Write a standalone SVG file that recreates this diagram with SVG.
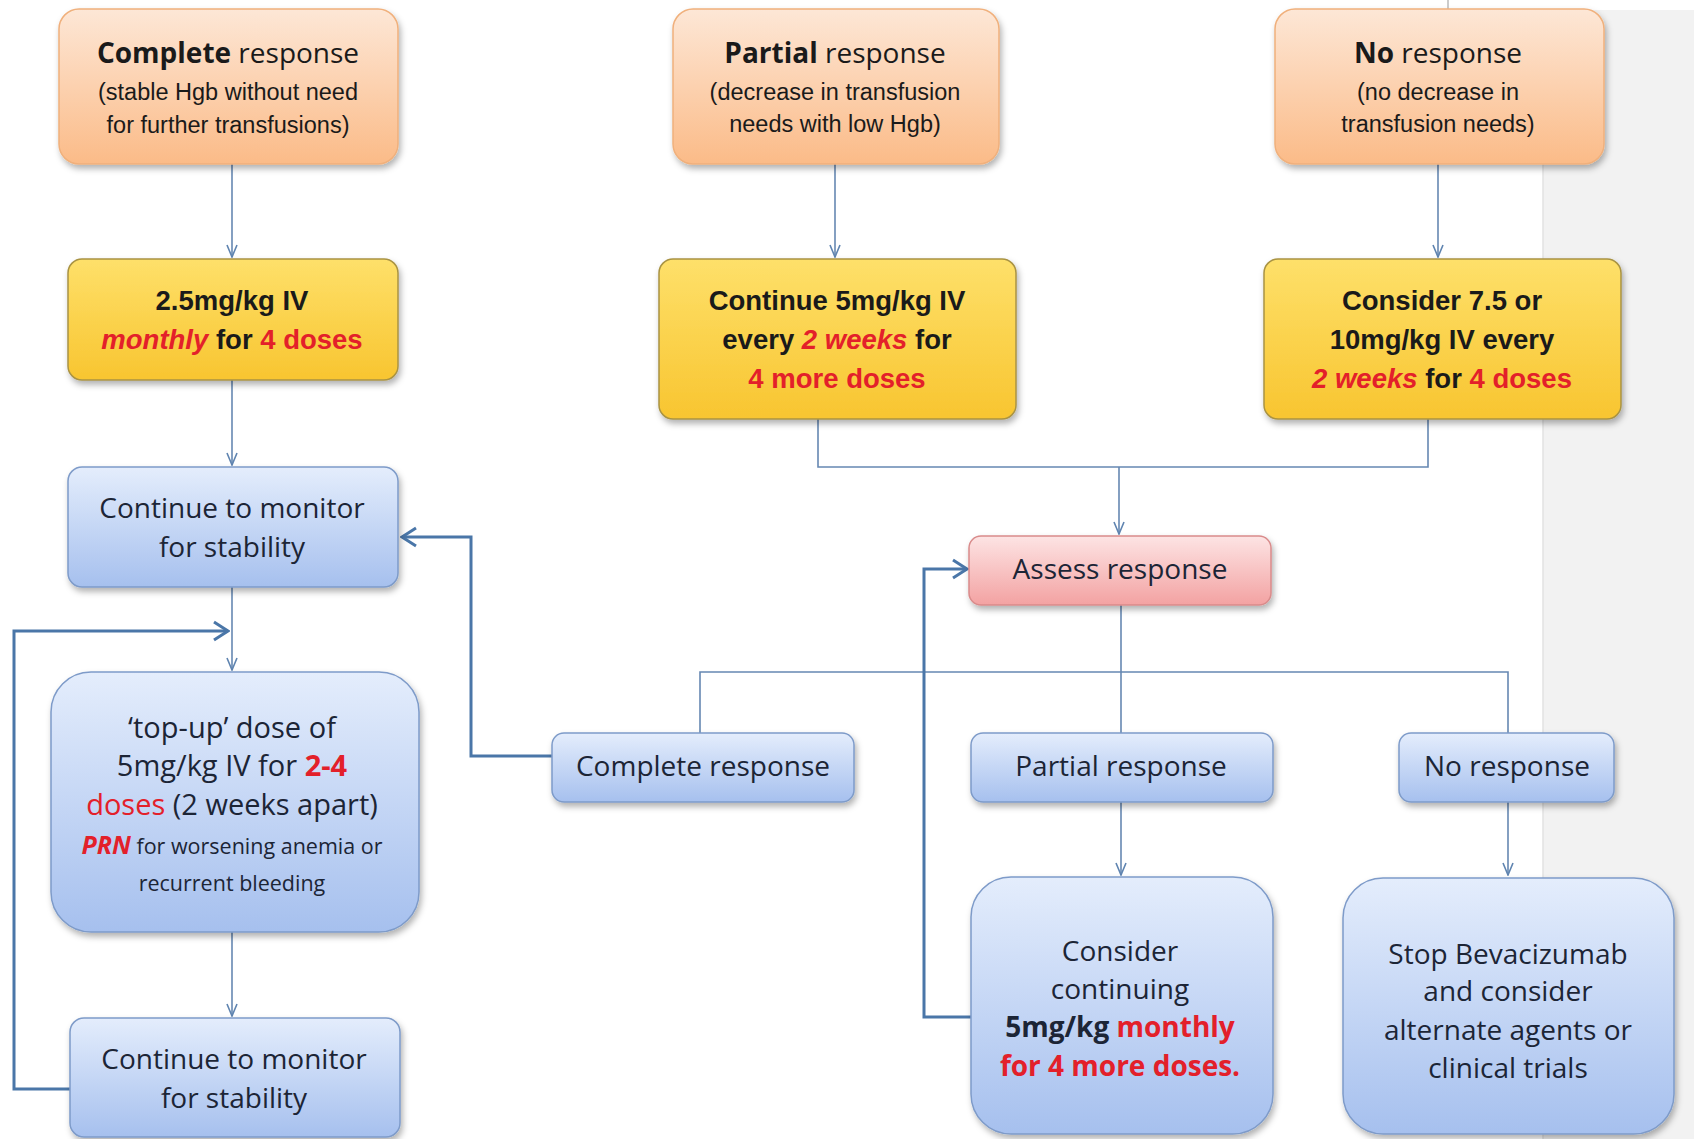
<svg xmlns="http://www.w3.org/2000/svg" width="1694" height="1139" viewBox="0 0 1694 1139">
<defs>
<linearGradient id="gOr" x1="0" y1="0" x2="0" y2="1"><stop offset="0" stop-color="#fde7d6"/><stop offset="1" stop-color="#fbbb88"/></linearGradient>
<linearGradient id="gYe" x1="0" y1="0" x2="0" y2="1"><stop offset="0" stop-color="#fee06a"/><stop offset="1" stop-color="#f8c530"/></linearGradient>
<linearGradient id="gBl" x1="0" y1="0" x2="0" y2="1"><stop offset="0" stop-color="#e4edfc"/><stop offset="1" stop-color="#a6c0ee"/></linearGradient>
<linearGradient id="gRd" x1="0" y1="0" x2="0" y2="1"><stop offset="0" stop-color="#fde4e4"/><stop offset="1" stop-color="#f3a2a2"/></linearGradient>
<filter id="sh" x="-10%" y="-10%" width="120%" height="130%"><feDropShadow dx="2" dy="4" stdDeviation="3" flood-color="#000" flood-opacity="0.3"/></filter>
<marker id="aT" viewBox="0 0 14 12" refX="13" refY="6" markerWidth="14" markerHeight="12" markerUnits="userSpaceOnUse" orient="auto"><path d="M1,1 L13,6 L1,11" fill="none" stroke="#5f84b0" stroke-width="1.6"/></marker>
<marker id="aK" viewBox="0 0 18 22" refX="16" refY="11" markerWidth="18" markerHeight="22" markerUnits="userSpaceOnUse" orient="auto"><path d="M2,2 L16,11 L2,20" fill="none" stroke="#4a76a8" stroke-width="3"/></marker>
</defs>
<style>
.or{fill:url(#gOr);stroke:#f0b07c;stroke-width:1.5;filter:url(#sh)}
.ye{fill:url(#gYe);stroke:#a99343;stroke-width:1.5;filter:url(#sh)}
.bl{fill:url(#gBl);stroke:#7e9bc9;stroke-width:1.5;filter:url(#sh)}
.rd{fill:url(#gRd);stroke:#d98b8b;stroke-width:1.5;filter:url(#sh)}
.thin{fill:none;stroke:#6688b2;stroke-width:1.6}
.thick{fill:none;stroke:#4a76a8;stroke-width:3}
.t1{font-family:"Open Sans","Noto Sans",sans-serif;font-size:28px;fill:#1a1a1a;text-anchor:middle}
.t2{font-family:"Liberation Sans",Arial,sans-serif;font-size:23.5px;fill:#1a1a1a;text-anchor:middle}
.ty{font-family:"Liberation Sans",Arial,sans-serif;font-size:27.5px;font-weight:bold;fill:#1a1a1a;text-anchor:middle}
.tb{font-family:"Open Sans","Noto Sans",sans-serif;font-size:28px;fill:#1c2536;text-anchor:middle}
.tt{font-family:"Open Sans","Noto Sans",sans-serif;font-size:29px;fill:#1c2536;text-anchor:middle}
.ts{font-family:"Open Sans","Noto Sans",sans-serif;font-size:21.5px;fill:#1c2536;text-anchor:middle}
.r{fill:#e3202a}
.b{font-weight:bold}
.i{font-style:italic}
</style>
<rect x="0" y="0" width="1694" height="1139" fill="#ffffff"/>
<rect x="1543" y="10" width="151" height="1129" fill="#f2f2f2"/>
<line x1="1543" y1="10" x2="1543" y2="1139" stroke="#e2e2e2" stroke-width="1.5"/>
<line x1="1448" y1="0" x2="1448" y2="10" stroke="#999" stroke-width="1"/>

<g id="connectors">
<path class="thin" d="M232,164 V257" marker-end="url(#aT)"/>
<path class="thin" d="M835,164 V257" marker-end="url(#aT)"/>
<path class="thin" d="M1438,164 V257" marker-end="url(#aT)"/>
<path class="thin" d="M232,380 V465" marker-end="url(#aT)"/>
<path class="thin" d="M818,419 V467 H1428 V419"/>
<path class="thin" d="M1119,467 V534" marker-end="url(#aT)"/>
<path class="thin" d="M232,587 V670" marker-end="url(#aT)"/>
<path class="thin" d="M232,932 V1016" marker-end="url(#aT)"/>
<path class="thin" d="M1121,605 V733"/>
<path class="thin" d="M700,733 V672 H1508 V733"/>
<path class="thin" d="M1121,802 V875" marker-end="url(#aT)"/>
<path class="thin" d="M1508,802 V875" marker-end="url(#aT)"/>
<path class="thick" d="M552,756 H471 V537 H402" marker-end="url(#aK)"/>
<path class="thick" d="M70,1089 H14 V631 H228" marker-end="url(#aK)"/>
<path class="thick" d="M971,1017 H924 V569 H967" marker-end="url(#aK)"/>
</g>

<g id="n-complete">
<rect class="or" x="59" y="9" width="339" height="155" rx="20"/>
<text class="t1" x="228" y="63"><tspan class="b">Complete</tspan> response</text>
<text class="t2" x="228" y="100">(stable Hgb without need</text>
<text class="t2" x="228" y="133">for further transfusions)</text>
</g>
<g id="n-partial">
<rect class="or" x="673" y="9" width="326" height="155" rx="20"/>
<text class="t1" x="835" y="63"><tspan class="b">Partial</tspan> response</text>
<text class="t2" x="835" y="100">(decrease in transfusion</text>
<text class="t2" x="835" y="132">needs with low Hgb)</text>
</g>
<g id="n-none">
<rect class="or" x="1275" y="9" width="329" height="155" rx="20"/>
<text class="t1" x="1438" y="63"><tspan class="b">No</tspan> response</text>
<text class="t2" x="1438" y="100">(no decrease in</text>
<text class="t2" x="1438" y="132">transfusion needs)</text>
</g>

<g id="n-dose1">
<rect class="ye" x="68" y="259" width="330" height="121" rx="14"/>
<text class="ty" x="232" y="310">2.5mg/kg IV</text>
<text class="ty" x="232" y="349"><tspan class="r i">monthly</tspan> for <tspan class="r">4 doses</tspan></text>
</g>
<g id="n-dose2">
<rect class="ye" x="659" y="259" width="357" height="160" rx="14"/>
<text class="ty" x="837" y="310">Continue 5mg/kg IV</text>
<text class="ty" x="837" y="349">every <tspan class="r i">2 weeks</tspan> for</text>
<text class="ty r" x="837" y="388">4 more doses</text>
</g>
<g id="n-dose3">
<rect class="ye" x="1264" y="259" width="357" height="160" rx="14"/>
<text class="ty" x="1442" y="310">Consider 7.5 or</text>
<text class="ty" x="1442" y="349">10mg/kg IV every</text>
<text class="ty" x="1442" y="388"><tspan class="r i">2 weeks</tspan> for <tspan class="r">4 doses</tspan></text>
</g>

<g id="n-monitor1">
<rect class="bl" x="68" y="467" width="330" height="120" rx="14"/>
<text class="tb" x="232" y="518">Continue to monitor</text>
<text class="tb" x="232" y="557">for stability</text>
</g>
<g id="n-topup">
<rect class="bl" x="51" y="672" width="368" height="260" rx="40"/>
<text class="tt" x="232" y="738">‘top-up’ dose of</text>
<text class="tt" x="232" y="776">5mg/kg IV for <tspan class="r b">2-4</tspan></text>
<text class="tt" x="232" y="815"><tspan class="r">doses</tspan> (2 weeks apart)</text>
<text class="ts" x="232" y="854"><tspan class="r b i" font-size="25">PRN</tspan> for worsening anemia or</text>
<text class="ts" x="232" y="891">recurrent bleeding</text>
</g>
<g id="n-monitor2">
<rect class="bl" x="70" y="1018" width="330" height="119" rx="14"/>
<text class="tb" x="234" y="1069">Continue to monitor</text>
<text class="tb" x="234" y="1108">for stability</text>
</g>

<g id="n-assess">
<rect class="rd" x="969" y="536" width="302" height="69" rx="12"/>
<text class="tb" x="1120" y="579">Assess response</text>
</g>
<g id="n-cr">
<rect class="bl" x="552" y="733" width="302" height="69" rx="12"/>
<text class="tb" x="703" y="776">Complete response</text>
</g>
<g id="n-pr">
<rect class="bl" x="971" y="733" width="302" height="69" rx="12"/>
<text class="tb" x="1121" y="776">Partial response</text>
</g>
<g id="n-nr">
<rect class="bl" x="1399" y="733" width="215" height="69" rx="12"/>
<text class="tb" x="1507" y="776">No response</text>
</g>
<g id="n-consider">
<rect class="bl" x="971" y="877" width="302" height="257" rx="40"/>
<text class="tb" x="1120" y="961">Consider</text>
<text class="tb" x="1120" y="999">continuing</text>
<text class="tb b" x="1120" y="1037" font-size="26.5">5mg/kg <tspan class="r">monthly</tspan></text>
<text class="tb b r" x="1120" y="1076" font-size="26.5">for 4 more doses.</text>
</g>
<g id="n-stop">
<rect class="bl" x="1343" y="878" width="331" height="256" rx="40"/>
<text class="tb" x="1508" y="964">Stop Bevacizumab</text>
<text class="tb" x="1508" y="1001">and consider</text>
<text class="tb" x="1508" y="1040">alternate agents or</text>
<text class="tb" x="1508" y="1078">clinical  trials</text>
</g>
</svg>
